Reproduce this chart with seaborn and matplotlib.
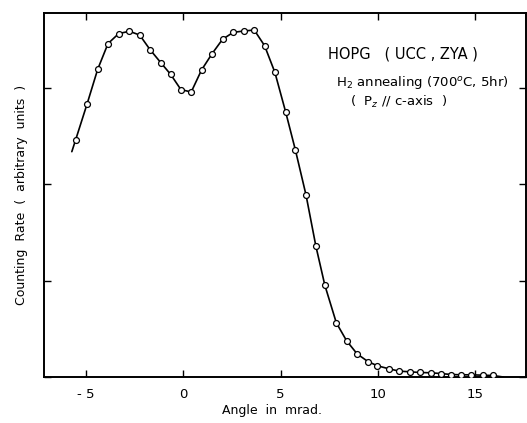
import matplotlib
matplotlib.use("Agg")
import matplotlib.pyplot as plt
import numpy as np
import pandas as pd
import seaborn as sns

# measured points (angle in mrad, counting rate in arbitrary units)
angle = [-5.53, -4.94, -4.40, -3.87, -3.32, -2.77, -2.24, -1.71, -1.13, -0.65,
         -0.12, 0.41, 0.94, 1.47, 2.02, 2.57, 3.12, 3.65, 4.18, 4.71,
         5.26, 5.76, 6.31, 6.82, 7.28, 7.87, 8.40, 8.94, 9.50, 9.98,
         10.58, 11.11, 11.66, 12.17, 12.72, 13.25, 13.78, 14.29, 14.82, 15.39,
         15.91]
rate = [2.465, 2.839, 3.195, 3.462, 3.566, 3.590, 3.551, 3.400, 3.258, 3.143,
        2.984, 2.960, 3.188, 3.354, 3.507, 3.579, 3.593, 3.603, 3.441, 3.164,
        2.756, 2.362, 1.892, 1.358, 0.953, 0.563, 0.376, 0.240, 0.160, 0.117,
        0.085, 0.061, 0.054, 0.047, 0.044, 0.036, 0.026, 0.023, 0.023, 0.019,
        0.016]

# ends of the drawn curve beyond the first and last point
curve_start = (-5.73, 2.34)
curve_end = (16.46, 0.0)

x_ticks = [-5, 0, 5, 10, 15]
y_ticks = [0, 1, 2, 3]

df = pd.DataFrame({"angle": angle, "rate": rate})
curve = pd.DataFrame({
    "angle": [curve_start[0]] + angle + [curve_end[0]],
    "rate": [curve_start[1]] + rate + [curve_end[1]],
})

sns.set_style("ticks")
plt.rcParams["font.family"] = ["DejaVu Sans"]

fig = plt.figure(figsize=(5.27, 4.23), dpi=100)
ax = fig.add_axes([0.0835, 0.1087, 0.9145, 0.8606])

sns.lineplot(data=curve, x="angle", y="rate", ax=ax, color="black",
             linewidth=1.2, sort=False, estimator=None)
sns.scatterplot(data=df, x="angle", y="rate", ax=ax, s=18, marker="o",
                facecolor="white", edgecolor="black", linewidth=0.9, zorder=3)

ax.set_xlim(-7.16, 17.62)
ax.set_ylim(0, 3.78)
ax.set_xticks(x_ticks)
ax.set_xticklabels(["- 5", "0", "5", "10", "15"])
ax.set_yticks(y_ticks)
ax.tick_params(axis="both", direction="in", length=5, width=1,
               top=True, right=True, labelsize=9.5, colors="black", pad=8)
ax.tick_params(axis="y", labelleft=False)
for s in ax.spines.values():
    s.set_linewidth(1.4)
    s.set_color("black")

ax.set_xlabel("Angle  in  mrad.", fontsize=9, color="black")
ax.xaxis.set_label_coords(0.473, -0.075)
ax.set_ylabel("Counting  Rate  (  arbitrary  units  )", fontsize=9, color="black")
ax.yaxis.set_label_coords(-0.033, 0.5)

ax.text(0.59, 0.875, "HOPG   ( UCC , ZYA )", transform=ax.transAxes,
        fontsize=10.5, color="black")
ax.text(0.605, 0.80, "H$_2$ annealing (700$^o$C, 5hr)", transform=ax.transAxes,
        fontsize=9.5, color="black")
ax.text(0.635, 0.745, "(  P$_z$ // c-axis  )", transform=ax.transAxes,
        fontsize=9.5, color="black")

fig.savefig("out.png", dpi=100)
